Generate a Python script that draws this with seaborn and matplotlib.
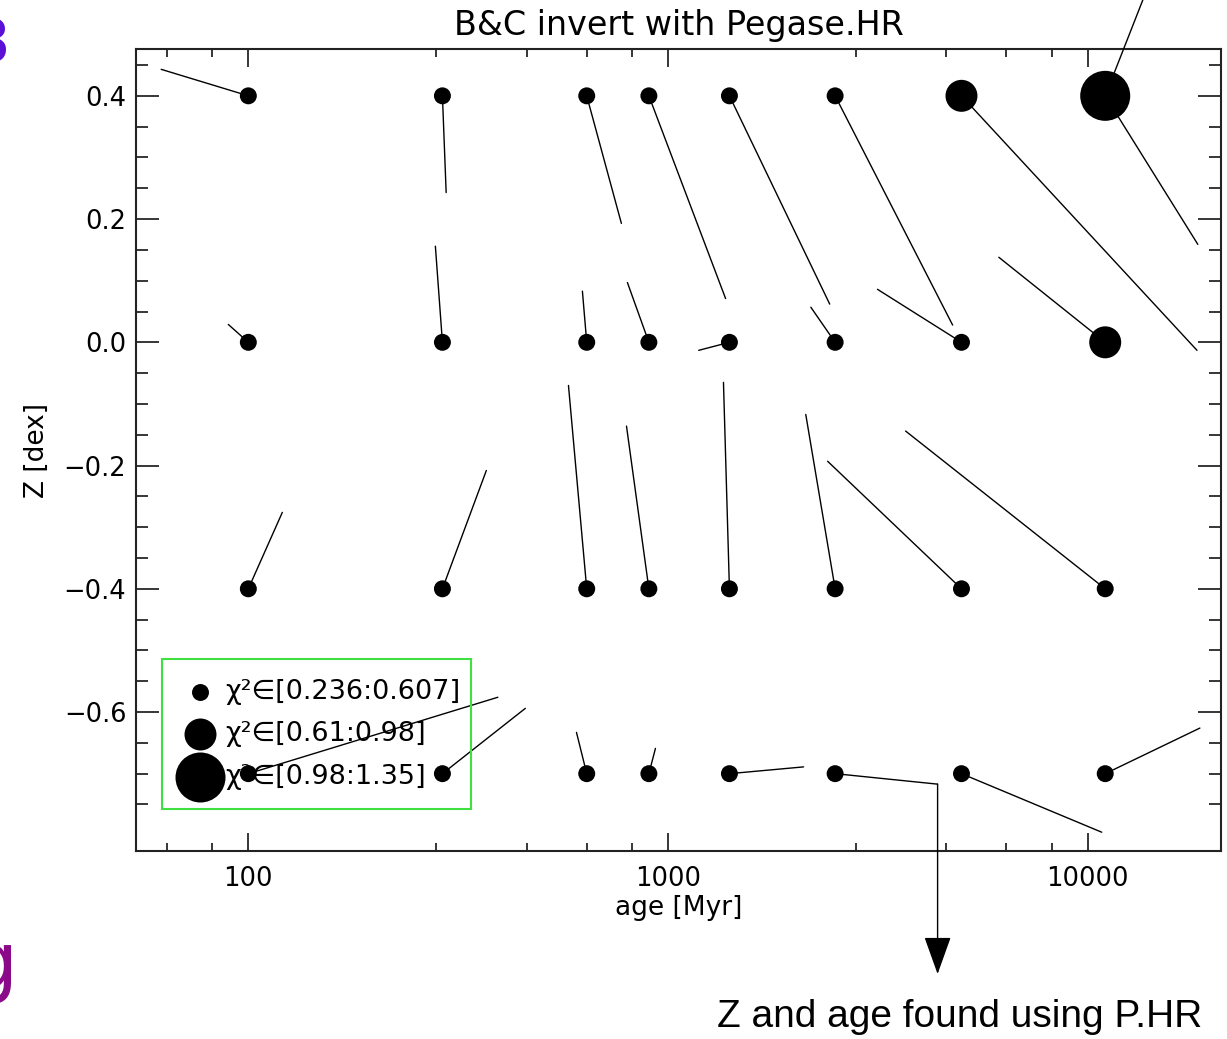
import numpy as np
import pandas as pd
import matplotlib
matplotlib.use("Agg")
import matplotlib.pyplot as plt
import seaborn as sns
from matplotlib.patches import Rectangle
from matplotlib.ticker import FixedLocator, NullFormatter

# grille d'entrée (âges en Myr, Z en dex)
ages = [100, 290, 640, 900, 1400, 2500, 5000, 11000]
z_grid = [0.4, 0.0, -0.4, -0.7]

# âge et Z retrouvés par l'inversion, ligne par ligne de la grille
found_age = {
    0.4: [62, 296, 774, 1371, 2427, 4763, 18200, 18280],
    0.0: [89.6, 279, 625, 800, 1183, 2188, 3154, 6137],
    -0.4: [120.5, 369, 579, 796, 1355, 2128, 2399, 3680],
    -0.7: [393, 457, 605, 933, 2103, 4386, 10790, 18490],
}
found_z = {
    0.4: [0.443, 0.243, 0.193, 0.071, 0.062, 0.028, -0.013, 0.159],
    0.0: [0.029, 0.156, 0.083, 0.097, -0.013, 0.057, 0.086, 0.138],
    -0.4: [-0.276, -0.208, -0.070, -0.136, -0.065, -0.117, -0.193, -0.144],
    -0.7: [-0.576, -0.594, -0.633, -0.659, -0.689, -0.717, -0.795, -0.626],
}
# classe de chi2 (0: petit, 1: moyen, 2: grand)
chi2_class = {
    0.4: [0, 0, 0, 0, 0, 0, 1, 2],
    0.0: [0, 0, 0, 0, 0, 0, 0, 1],
    -0.4: [0, 0, 0, 0, 0, 0, 0, 0],
    -0.7: [0, 0, 0, 0, 0, 0, 0, 0],
}
legend_labels = ["χ²∈[0.236:0.607]", "χ²∈[0.61:0.98]", "χ²∈[0.98:1.35]"]

# tables pour seaborn
pts_rows, seg_rows = [], []
k = 0
for z in z_grid:
    for i, a in enumerate(ages):
        pts_rows.append({"age": a, "Z": z, "cls": chi2_class[z][i]})
        seg_rows.append({"seg": k, "age": a, "Z": z})
        seg_rows.append({"seg": k, "age": found_age[z][i], "Z": found_z[z][i]})
        k += 1
pts = pd.DataFrame(pts_rows)
segs = pd.DataFrame(seg_rows)

sns.set_style("ticks")
plt.rcParams["font.family"] = ["DejaVu Sans"]
plt.rcParams["text.color"] = "black"
plt.rcParams["axes.labelcolor"] = "black"
plt.rcParams["xtick.color"] = "black"
plt.rcParams["ytick.color"] = "black"

W, H = 1227, 1039
fig = plt.figure(figsize=(W / 100, H / 100), dpi=100)
ax = fig.add_axes([136 / W, 1 - 851 / H, 1085 / W, 802 / H])
ax.set_xscale("log")

sns.lineplot(data=segs, x="age", y="Z", units="seg", estimator=None, sort=False,
             color="black", lw=1.0, ax=ax, legend=False)
sizes = {0: 149, 1: 530, 2: 1296}
sns.scatterplot(data=pts, x="age", y="Z", size="cls", sizes=sizes, color="black",
                linewidth=0, legend=False, ax=ax, zorder=3)

ax.set_xlim(54, 20760)
ax.set_ylim(-0.8255, 0.476)

# ticks façon IDL
ax.xaxis.set_major_locator(FixedLocator([100, 1000, 10000]))
ax.xaxis.set_major_formatter(matplotlib.ticker.FixedFormatter(["100", "1000", "10000"]))
ax.xaxis.set_minor_locator(FixedLocator([64, 82, 280, 460, 640, 820, 2800, 4600, 6400, 8200]))
ax.xaxis.set_minor_formatter(NullFormatter())
ax.yaxis.set_major_locator(FixedLocator([-0.6, -0.4, -0.2, 0.0, 0.2, 0.4]))
ax.set_yticklabels(["−0.6", "−0.4", "−0.2", "0.0", "0.2", "0.4"])
ax.yaxis.set_minor_locator(FixedLocator([-0.75, -0.7, -0.65, -0.55, -0.5, -0.45, -0.35, -0.3,
                                         -0.25, -0.15, -0.1, -0.05, 0.05, 0.1, 0.15,
                                         0.25, 0.3, 0.35, 0.45]))
ax.tick_params(axis="x", which="major", direction="in", top=True, length=13, width=1.1,
               labelsize=18.5, pad=11)
ax.tick_params(axis="x", which="minor", direction="in", top=True, length=6, width=1.1)
ax.tick_params(axis="y", which="major", direction="in", right=True, length=16.5, width=1.1,
               labelsize=18.5, pad=7)
ax.tick_params(axis="y", which="minor", direction="in", right=True, length=8.6, width=1.1)
for sp in ax.spines.values():
    sp.set_linewidth(1.5)
    sp.set_color("#222222")

ax.set_title("B&C invert with Pegase.HR", fontsize=24, pad=10)
ax.set_xlabel("age [Myr]", fontsize=19, labelpad=2)
ax.set_ylabel("Z [dex]", fontsize=19, labelpad=10)

# légende manuelle (cadre vert sans fond)
ax.add_patch(Rectangle((0.024, 0.0524), 0.2848, 0.187, transform=ax.transAxes,
                       fill=False, edgecolor="#40e040", lw=1.5, zorder=5))
leg_y = [0.1983, 0.1459, 0.0923]
for cls, (ly, lab) in enumerate(zip(leg_y, legend_labels)):
    ax.scatter([0.059], [ly], s=sizes[cls], color="black", linewidth=0,
               transform=ax.transAxes, zorder=5, clip_on=False)
    ax.text(0.082, ly, lab, transform=ax.transAxes, fontsize=19.5, va="center",
            ha="left", zorder=5)

# flèche vers le texte du bas
z_end = -0.7
ax.annotate("", xy=(found_age[z_end][5], 1 - 974 / H), xycoords=("data", "figure fraction"),
            xytext=(found_age[z_end][5], found_z[z_end][5]), textcoords="data",
            arrowprops=dict(arrowstyle="-|>,head_length=2.4,head_width=0.86",
                            color="black", lw=1.0, shrinkA=0, shrinkB=0, mutation_scale=10),
            annotation_clip=False)
fig.text(960 / W, 1 - 1027 / H, "Z and age found using P.HR", ha="center", va="baseline",
         fontsize=28, family="Liberation Sans")

# trait qui part du gros point vers le haut
ax.annotate("", xy=(13520, 1.0), xycoords=("data", "figure fraction"),
            xytext=(11000, 0.4), textcoords="data",
            arrowprops=dict(arrowstyle="-", color="black", lw=1.0, shrinkA=18, shrinkB=0),
            annotation_clip=False)

# morceaux de texte coupés au bord gauche (comme sur l'original)
fig.text(10 / W, 1 - 62 / H, "3", ha="right", va="baseline", fontsize=44, color="#5b10d8")
fig.text(18 / W, 1 - 988 / H, "g", ha="right", va="baseline", fontsize=57, color="#8a0a8a")

fig.savefig("out.png", dpi=100)
plt.close(fig)
